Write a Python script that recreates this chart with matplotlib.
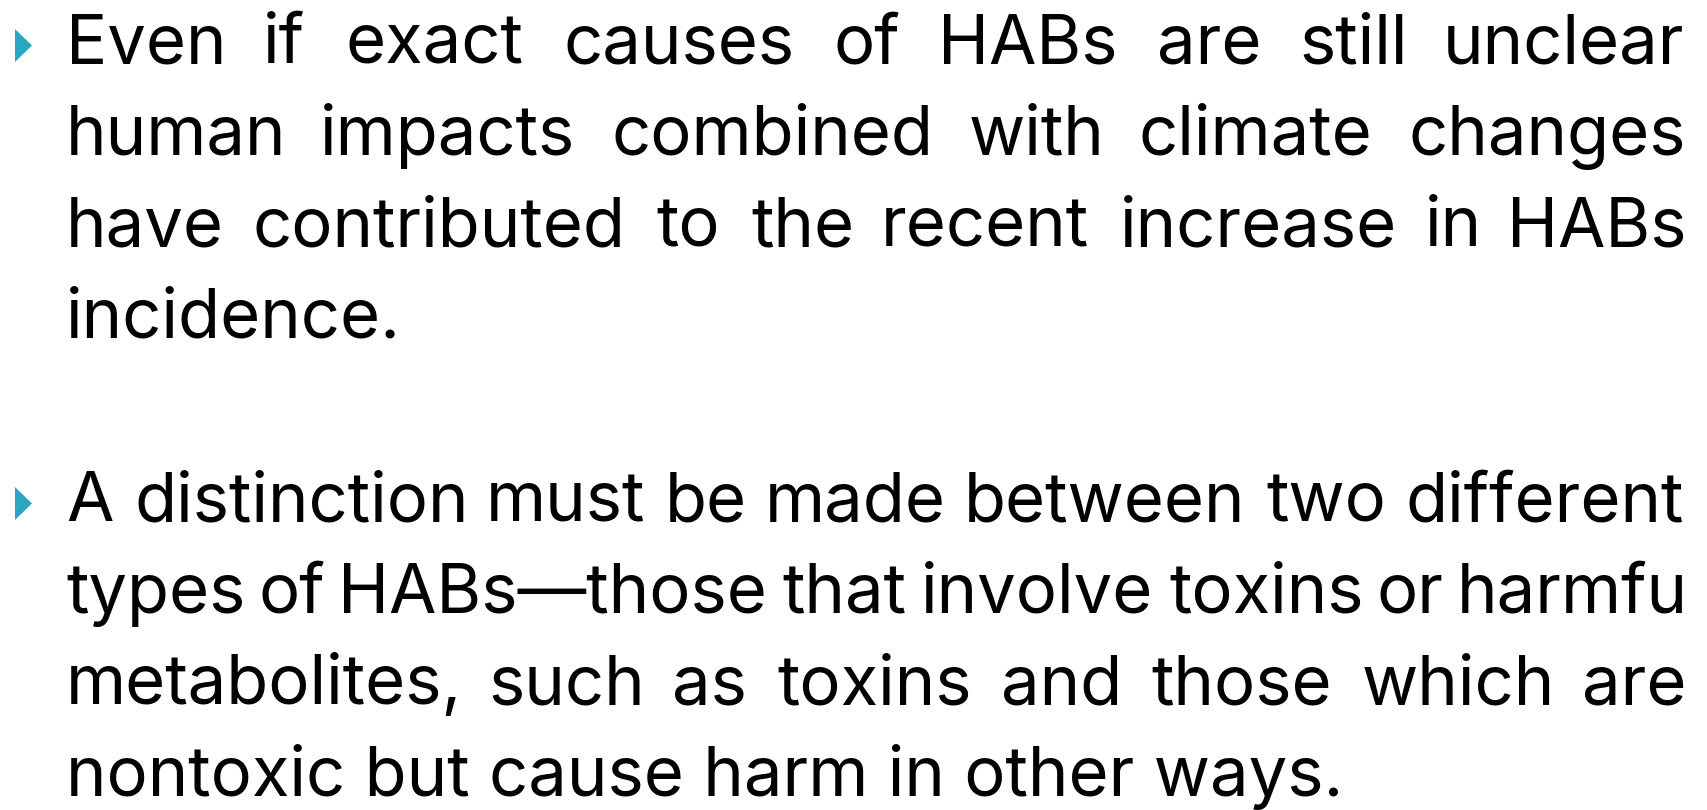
import matplotlib
matplotlib.use("Agg")
import matplotlib.pyplot as plt
from matplotlib.patches import Polygon
from matplotlib.textpath import TextPath
from matplotlib.font_manager import FontProperties, findfont

# slide text, line by line as it is broken in the picture
para1 = ["Even if exact causes of HABs are still unclear",
         "human impacts combined with climate changes",
         "have contributed to the recent increase in HABs",
         "incidence."]
para2 = ["A distinction must be made between two different",
         "types of HABs\u2014those that involve toxins or harmfu",
         "metabolites, such as toxins and those which are",
         "nontoxic but cause harm in other ways."]
justify1 = [True, True, True, False]
justify2 = [True, True, True, False]

W, H = 1708, 810
ORIGIN, RIGHT = 66, 1683
BASE0 = 63
STEP = 91.6
CAP = 50
LAST_W = 1340 - 72
BULLET = "#2ba6c2"

fig = plt.figure(figsize=(W / 100, H / 100), dpi=100)
fig.patch.set_facecolor("white")


def ink(s, fam, fs):
    # ink extents in pixels (x0, width, height)
    e = TextPath((0, 0), s, size=fs, prop=FontProperties(family=fam)).get_extents()
    k = 100 / 72
    return e.x0 * k, e.width * k, e.height * k


# pick the installed family whose cap height fits best when the width matches
best = None
for fam in ["Lato", "Open Sans", "Noto Sans", "Roboto", "DejaVu Sans", "Liberation Sans", "Inter"]:
    try:
        findfont(FontProperties(family=fam), fallback_to_default=False)
    except Exception:
        continue
    w = ink(para2[-1], fam, 50)[1]
    fs = 50 * LAST_W / w
    cap = ink("E", fam, fs)[2]
    if best is None or abs(cap - CAP) < best[2]:
        best = (fam, fs, abs(cap - CAP))
FAM, FS = best[0], best[1]


def draw_line(s, base, justify):
    y = 1 - base / H
    if not justify:
        fig.text(ORIGIN / W, y, s, family=FAM, fontsize=FS,
                 va="baseline", ha="left", color="black")
        return
    words = s.split(" ")
    m = [ink(wd, FAM, FS) for wd in words]
    first_left = ORIGIN + m[0][0]
    gap = (RIGHT - first_left - sum(v[1] for v in m)) / (len(words) - 1)
    x = first_left
    for wd, (x0, w, _) in zip(words, m):
        fig.text((x - x0) / W, y, wd, family=FAM, fontsize=FS,
                 va="baseline", ha="left", color="black")
        x += w + gap


def bullet(base):
    pts = [(15, base - 34), (15, base - 1), (32, base - 17.5)]
    fig.add_artist(Polygon([(px / W, 1 - py / H) for px, py in pts],
                           closed=True, facecolor=BULLET, edgecolor="none"))


for i, (s, j) in enumerate(zip(para1, justify1)):
    draw_line(s, BASE0 + i * STEP, j)
for i, (s, j) in enumerate(zip(para2, justify2)):
    draw_line(s, BASE0 + (i + 5) * STEP, j)
bullet(BASE0)
bullet(BASE0 + 5 * STEP)

fig.savefig("out.png", dpi=100, facecolor="white")
